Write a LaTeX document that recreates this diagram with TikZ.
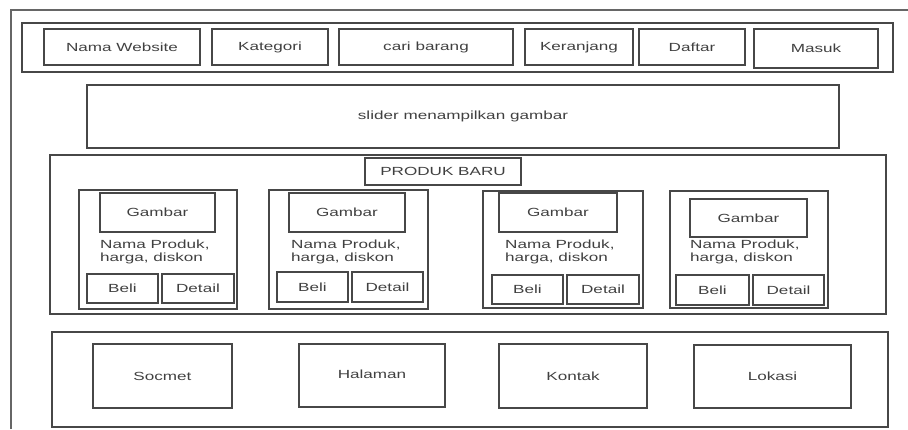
\documentclass[tikz,border=0pt]{standalone}
\usepackage{fontspec}
\setmainfont{Liberation Sans}[FakeStretch=1.45]
\newcommand\wbox[7][]{\node[wb,#1,minimum width={(#4-#2)*1pt},minimum height={(#5-#3)*1pt}] (#6) at ({(#2+#4)/2},{(#3+#5)/2}) {#7};}
\begin{document}
\begin{tikzpicture}[x=1pt,y=-1pt,
  wb/.style={draw=black!72, line width=1.2pt, inner sep=0pt, outer sep=0pt,
    font=\fontsize{11.8}{13}\selectfont, text=black!75},
  ptxt/.style={inner sep=0pt, align=left, anchor=north west,
    font=\fontsize{11.8}{13}\selectfont, text=black!75},
  frame/.style={draw=black!60, line width=1.2pt}]
\useasboundingbox (0,0) rectangle (908,429);
% outer frame
\coordinate (fa) at (11,429);
\coordinate (fb) at (11,10);
\coordinate (fc) at (908,10);
\draw[frame] (fa) -- (fb) -- (fc);
% header
\wbox{22}{23}{893}{72}{header}{}
\wbox{44}{29}{200}{65}{nw}{Nama Website}
\wbox{212}{29}{328}{65}{kat}{Kategori}
\wbox{339}{29}{513}{65}{cari}{cari barang}
\wbox{525}{29}{633}{65}{ker}{Keranjang}
\wbox{639}{29}{745}{65}{daf}{Daftar}
\wbox{754}{29}{878}{68}{mas}{Masuk}
% slider
\wbox{87}{85}{839}{148}{slider}{slider menampilkan gambar}
% produk panel
\wbox{50}{155}{886}{314}{produk}{}
\wbox{365}{158}{521}{185}{pbaru}{PRODUK BARU}
% card 1
\wbox{79}{190}{237}{309}{c1}{}
\wbox{100}{193}{215}{232}{g1}{Gambar}
\node[ptxt] (t1) at (100,239.5) {Nama Produk,\\harga, diskon};
\wbox{87}{274}{158}{303}{b1}{Beli}
\wbox{162}{274}{234}{303}{d1}{Detail}
% card 2
\wbox{269}{190}{428}{309}{c2}{}
\wbox{289}{193}{405}{232}{g2}{Gambar}
\node[ptxt] (t2) at (291,239.5) {Nama Produk,\\harga, diskon};
\wbox{277}{272}{348}{302}{b2}{Beli}
\wbox{352}{272}{423}{302}{d2}{Detail}
% card 3
\wbox{483}{191}{643}{308}{c3}{}
\wbox{499}{193}{617}{232}{g3}{Gambar}
\node[ptxt] (t3) at (505,239.5) {Nama Produk,\\harga, diskon};
\wbox{492}{275}{563}{304}{b3}{Beli}
\wbox{567}{275}{639}{304}{d3}{Detail}
% card 4
\wbox{670}{191}{828}{308}{c4}{}
\wbox{690}{199}{807}{237}{g4}{Gambar}
\node[ptxt] (t4) at (690,239.5) {Nama Produk,\\harga, diskon};
\wbox{676}{275}{749}{305}{b4}{Beli}
\wbox{753}{275}{824}{305}{d4}{Detail}
% footer
\wbox{52}{332}{888}{427}{footer}{}
\wbox{93}{344}{232}{408}{soc}{Socmet}
\wbox{299}{344}{445}{407}{hal}{\raisebox{2pt}{Halaman}}
\wbox{499}{344}{647}{408}{kon}{Kontak}
\wbox{694}{345}{851}{408}{lok}{Lokasi}
\end{tikzpicture}
\end{document}
